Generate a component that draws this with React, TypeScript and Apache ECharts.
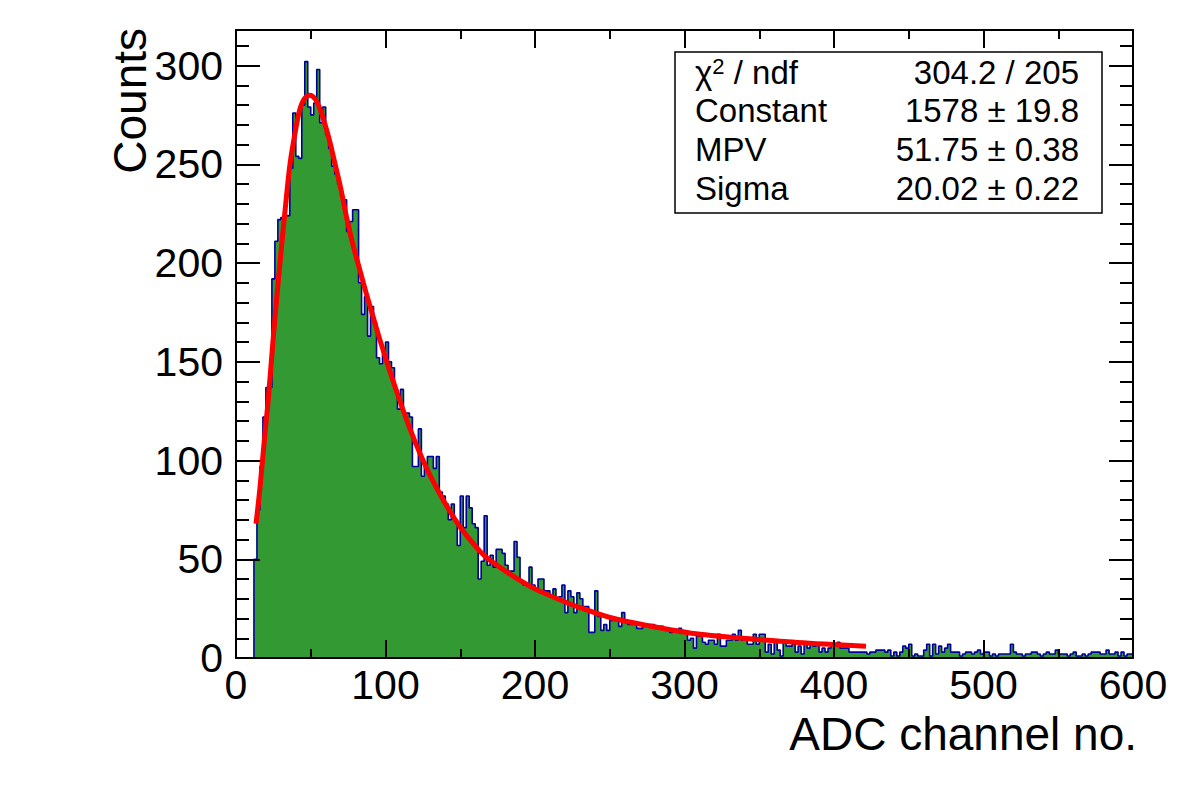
import React, { useEffect, useRef } from "react";
import * as echarts from "echarts";

// ADC spectrum: 300 bins of 2 channels each, from 0 to 600
const BIN_WIDTH = 2;
const X_MIN = 0;
const X_MAX = 600;
const Y_MAX = 318;

const counts: number[] = [
  0, 0, 0, 0, 0, 0, 50, 75, 97, 122,
  137, 137, 192, 211, 222, 223, 224, 224, 248, 276,
  254, 253, 280, 302, 279, 275, 281, 298, 271, 279,
  265, 258, 249, 245, 240, 234, 232, 216, 221, 227,
  227, 190, 174, 183, 163, 178, 170, 152, 149, 155,
  160, 150, 147, 136, 126, 136, 124, 124, 122, 97,
  97, 116, 92, 97, 102, 102, 96, 102, 84, 82,
  78, 70, 78, 70, 57, 82, 66, 82, 76, 68,
  66, 40, 49, 72, 47, 52, 46, 55, 55, 53,
  47, 44, 44, 59, 51, 39, 37, 37, 46, 37,
  35, 40, 40, 34, 34, 31, 35, 30, 31, 37,
  23, 34, 31, 23, 33, 30, 26, 26, 13, 13,
  34, 21, 14, 17, 14, 19, 19, 19, 16, 23,
  18, 17, 17, 18, 15, 15, 17, 17, 17, 17,
  15, 16, 16, 15, 15, 13, 14, 14, 15, 13,
  13, 9, 10, 5, 11, 11, 8, 7, 9, 9,
  7, 12, 6, 6, 9, 9, 12, 9, 14, 9,
  9, 7, 7, 12, 7, 12, 12, 3, 7, 2,
  9, 4, 1, 9, 6, 6, 7, 3, 6, 2,
  7, 5, 8, 6, 7, 3, 5, 3, 5, 7,
  7, 8, 5, 5, 5, 3, 3, 3, 3, 3,
  3, 2, 3, 3, 4, 4, 4, 3, 4, 1,
  3, 1, 3, 6, 5, 7, 1, 2, 1, 1,
  4, 7, 1, 7, 2, 6, 3, 5, 7, 3,
  3, 3, 1, 2, 3, 3, 2, 3, 4, 2,
  3, 3, 1, 2, 1, 2, 2, 2, 2, 7,
  3, 2, 2, 1, 2, 2, 3, 3, 2, 1,
  2, 3, 2, 2, 4, 2, 2, 2, 1, 2,
  3, 1, 1, 2, 1, 2, 3, 3, 3, 2,
  2, 4, 2, 2, 3, 1, 3, 1, 2, 2,
];

// Landau fit curve, sampled over the fit range
const fitX: number[] = [
  13.4, 16, 19.4, 21.6, 25, 29.4, 33, 36.1, 40, 42.8, 46, 49.5, 53, 56.2, 60,
  62.9, 66, 70, 74, 78.3, 83, 87, 92, 96.3, 103, 109.7, 116.4, 123.1, 129.8,
  139.8, 149.8, 163.2, 169.9, 183.3, 200, 216.7, 230.1, 250.2, 274.9, 310.4,
  363.9, 399.3, 421.4,
];
const fitY: number[] = [
  68, 86, 114, 131, 163, 200, 228, 250, 268, 278, 283.5, 285, 283, 278, 269,
  261, 251, 238, 223, 209, 196, 185, 172, 161, 145, 130, 116, 103.5, 92.5,
  78.5, 66.5, 54, 49.5, 42.5, 35, 29.5, 25.5, 20.5, 16.5, 12,
  8.5, 6.8, 5.9,
];

const statNames = ["Constant", "MPV", "Sigma"];
const statValues = ["1578 \u00b1 19.8", "51.75 \u00b1 0.38", "20.02 \u00b1 0.22"];
const chi2Text = "304.2 / 205";

const FONT = "Liberation Sans";

export default function App() {
  const ref = useRef<HTMLDivElement>(null);

  useEffect(() => {
    if (!ref.current) return;
    const chart = echarts.init(ref.current, null, { renderer: "svg" });

    const histPoints: number[][] = counts.map((c, i) => [X_MIN + i * BIN_WIDTH, c]);
    const last = counts[counts.length - 1];
    histPoints.push([X_MIN + counts.length * BIN_WIDTH, last]);
    histPoints.push([X_MIN + counts.length * BIN_WIDTH, 0]);

    const fitPoints = fitX.map((x, i) => [x, fitY[i]]);

    const black = "#000";
    const tickStyle = { color: black, width: 2 };

    const xAxisBase = (position: "top" | "bottom", labels: boolean) => ({
      type: "value",
      position,
      min: X_MIN,
      max: X_MAX,
      interval: 100,
      z: 5,
      axisLine: { show: true, onZero: false, lineStyle: { color: black, width: 2 } },
      axisTick: { show: true, inside: true, length: 18, lineStyle: tickStyle },
      minorTick: { show: true, splitNumber: 2, length: 9, lineStyle: tickStyle },
      axisLabel: {
        show: labels,
        margin: 6,
        color: black,
        fontSize: 41,
        fontFamily: FONT,
      },
      splitLine: { show: false },
      minorSplitLine: { show: false },
    });

    const yAxisBase = (
      position: "left" | "right",
      interval: number,
      tickLen: number,
      line: boolean,
      labels: boolean
    ) => ({
      type: "value",
      position,
      min: 0,
      max: Y_MAX,
      interval,
      z: 5,
      axisLine: { show: line, onZero: false, lineStyle: { color: black, width: 2 } },
      axisTick: { show: true, inside: true, length: tickLen, lineStyle: tickStyle },
      axisLabel: {
        show: labels,
        margin: 13,
        color: black,
        fontSize: 41,
        fontFamily: FONT,
        formatter: (v: number) => (v % 50 === 0 ? String(v) : ""),
      },
      splitLine: { show: false },
    });

    const rowY = [72, 110.5, 149, 188.5];
    const statText: any[] = [
      {
        type: "text",
        x: 695,
        y: rowY[0],
        z: 101,
        style: {
          text: "{m|\u03c7}{s|2}{m| / ndf}",
          fill: black,
          verticalAlign: "middle",
          rich: {
            m: { fontSize: 33, fontFamily: FONT, fill: black, lineHeight: 34 },
            s: { fontSize: 22, fontFamily: FONT, fill: black, verticalAlign: "top", lineHeight: 34 },
          },
        },
      },
      {
        type: "text",
        x: 1079,
        y: rowY[0],
        z: 101,
        style: {
          text: chi2Text,
          fontSize: 33,
          fontFamily: FONT,
          fill: black,
          align: "right",
          verticalAlign: "middle",
        },
      },
    ];
    statNames.forEach((name, i) => {
      statText.push({
        type: "text",
        x: 695,
        y: rowY[i + 1],
        z: 101,
        style: { text: name, fontSize: 33, fontFamily: FONT, fill: black, verticalAlign: "middle" },
      });
      statText.push({
        type: "text",
        x: 1079,
        y: rowY[i + 1],
        z: 101,
        style: {
          text: statValues[i],
          fontSize: 33,
          fontFamily: FONT,
          fill: black,
          align: "right",
          verticalAlign: "middle",
        },
      });
    });

    chart.setOption({
      animation: false,
      backgroundColor: "#fff",
      grid: { left: 236, top: 30, width: 897, height: 628, containLabel: false },
      xAxis: [xAxisBase("bottom", true), xAxisBase("top", false)],
      yAxis: [
        yAxisBase("left", 50, 24, true, true),
        yAxisBase("left", 10, 13, false, false),
        yAxisBase("right", 50, 24, true, false),
        yAxisBase("right", 10, 13, false, false),
      ],
      series: [
        {
          type: "line",
          name: "ADC",
          xAxisIndex: 0,
          yAxisIndex: 0,
          data: histPoints,
          step: "end",
          symbol: "none",
          silent: true,
          z: 2,
          lineStyle: { color: "#000099", width: 1.6 },
          areaStyle: { color: "#339933", opacity: 1 },
        },
        {
          type: "line",
          name: "landau",
          xAxisIndex: 0,
          yAxisIndex: 0,
          data: fitPoints,
          smooth: 0.3,
          symbol: "none",
          silent: true,
          z: 3,
          lineStyle: { color: "#ff0000", width: 5 },
        },
      ],
      graphic: [
        {
          type: "text",
          x: 1137,
          y: 734,
          style: {
            text: "ADC channel no.",
            fontSize: 46,
            fontFamily: FONT,
            fill: black,
            align: "right",
            verticalAlign: "middle",
          },
        },
        {
          type: "text",
          x: 130,
          y: 28,
          rotation: Math.PI / 2,
          style: {
            text: "Counts",
            fontSize: 46,
            fontFamily: FONT,
            fill: black,
            align: "right",
            verticalAlign: "middle",
          },
        },
        {
          type: "rect",
          z: 100,
          shape: { x: 675, y: 52, width: 427, height: 161 },
          style: { fill: "#fff", stroke: black, lineWidth: 1.5 },
        },
        ...statText,
      ],
    });

    return () => chart.dispose();
  }, []);

  return (
    <div
      ref={ref}
      style={{ position: "fixed", left: 0, top: 0, width: 1182, height: 805, background: "#fff" }}
    />
  );
}
